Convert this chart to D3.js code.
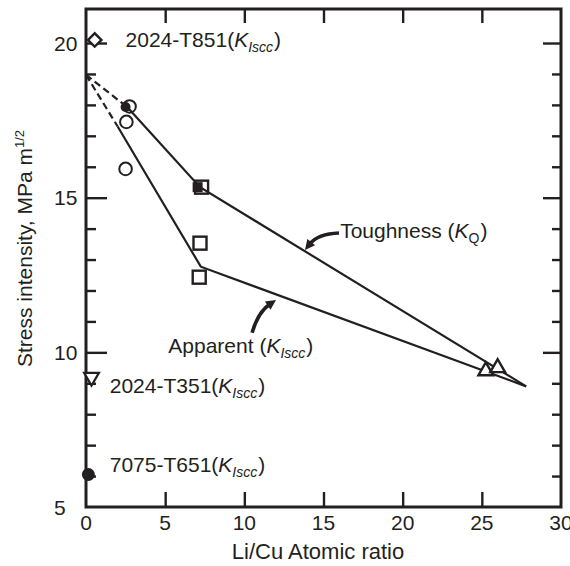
<!DOCTYPE html>
<html><head><meta charset="utf-8">
<script src="https://cdn.jsdelivr.net/npm/d3@7"></script>
<style>
body{margin:0;background:#fff;}
svg{display:block;}
text{font-family:"Liberation Sans",Arial,Helvetica,sans-serif;fill:#231f20;}
</style>
</head><body>
<svg id="c" width="570" height="566"></svg>
<script>
// ---- data ----
const xTickValues = [0, 5, 10, 15, 20, 25, 30];
const yTickLabels = [5, 10, 15, 20];
const yTickAll = [6, 7, 8, 9, 10, 11, 12, 13, 14, 15, 16, 17, 18, 19, 20];
const xInnerTicks = [5, 10, 15, 20, 25];

const toughnessLine = [{x: 2.6, y: 17.93}, {x: 7.2, y: 15.34}, {x: 27.8, y: 8.9}];
const apparentLine  = [{x: 2.0, y: 17.3}, {x: 7.25, y: 12.77}, {x: 27.8, y: 8.9}];
const extrapolation = [
  [{x: 0, y: 18.97}, {x: 2.6, y: 17.93}],
  [{x: 0, y: 18.97}, {x: 2.0, y: 17.3}]
];
const openCircles   = [{x: 2.75, y: 17.95}, {x: 2.55, y: 17.45}, {x: 2.5, y: 15.93}];
const filledCircles = [{x: 2.5, y: 17.93, r: 5}, {x: 0.15, y: 6.05, r: 6.5}];
const openSquares   = [{x: 7.3, y: 15.34}, {x: 7.2, y: 13.53}, {x: 7.15, y: 12.43}];
const filledSquares = [{x: 7.05, y: 15.34}];
const upTriangles   = [{x: 25.25, y: 9.4}, {x: 26.0, y: 9.5}];
const diamonds      = [{x: 0.55, y: 20.1}];
const downTriangles = [{x: 0.35, y: 9.2}];

const alloyLabels = [
  {name: "2024-T851(", sub: "Iscc", x: 2.5, y: 19.87},
  {name: "2024-T351(", sub: "Iscc", x: 1.5, y: 8.7},
  {name: "7075-T651(", sub: "Iscc", x: 1.5, y: 6.12}
];
const curveLabels = [
  {name: "Toughness (", sub: "Q", subItalic: false, x: 16.05, y: 13.69},
  {name: "Apparent (", sub: "Iscc", subItalic: true, x: 5.2, y: 9.97}
];
const arrows = [
  {tail: {x: 15.98, y: 13.86}, ctrl: {x: 14.65, y: 13.83}, tip: {x: 13.83, y: 13.31}},
  {tail: {x: 10.49, y: 10.63}, ctrl: {x: 10.87, y: 11.3},  tip: {x: 12.0,  y: 11.69}}
];

// ---- chart ----
const svg = d3.select("#c");
const x = d3.scaleLinear().domain([0, 30]).range([86, 561]);
const y = d3.scaleLinear().domain([5, 21.1]).range([507, 9]);
const ink = "#231f20";

// frame
svg.append("rect").attr("x", x(0)).attr("y", y(21.1))
  .attr("width", x(30) - x(0)).attr("height", y(5) - y(21.1))
  .attr("fill", "none").attr("stroke", ink).attr("stroke-width", 3);

// tick marks (inner ticks on all four sides)
const leftAxis = d3.axisRight(y).tickValues(yTickAll).tickFormat("")
  .tickSizeOuter(0).tickSizeInner(10);
svg.append("g").attr("class", "leftTicks")
  .attr("transform", `translate(${x(0)},0)`).call(leftAxis)
  .call(s => s.select(".domain").remove())
  .call(s => s.selectAll(".tick line")
    .attr("x2", d => d % 5 === 0 ? 21 : 10)
    .attr("stroke", ink).attr("stroke-width", 2.4));
const rightAxis = d3.axisLeft(y).tickValues(yTickAll).tickFormat("")
  .tickSizeOuter(0).tickSizeInner(9);
svg.append("g").attr("class", "rightTicks")
  .attr("transform", `translate(${x(30)},0)`).call(rightAxis)
  .call(s => s.select(".domain").remove())
  .call(s => s.selectAll(".tick line")
    .attr("x2", d => d % 5 === 0 ? -18 : -9)
    .attr("stroke", ink).attr("stroke-width", 2.4));
svg.append("g").attr("transform", `translate(0,${y(21.1)})`)
  .call(d3.axisBottom(x).tickValues(xInnerTicks).tickFormat("").tickSizeOuter(0).tickSizeInner(14))
  .call(s => s.select(".domain").remove())
  .call(s => s.selectAll(".tick line").attr("stroke", ink).attr("stroke-width", 2.4));
svg.append("g").attr("transform", `translate(0,${y(5)})`)
  .call(d3.axisTop(x).tickValues(xInnerTicks).tickFormat("").tickSizeOuter(0).tickSizeInner(15))
  .call(s => s.select(".domain").remove())
  .call(s => s.selectAll(".tick line").attr("stroke", ink).attr("stroke-width", 2.4));

// tick labels
svg.selectAll(".xl").data(xTickValues).join("text").attr("class", "xl")
  .attr("x", d => x(d)).attr("y", 530).attr("text-anchor", "middle")
  .attr("font-size", 21).text(d => d);
svg.selectAll(".yl").data(yTickLabels).join("text").attr("class", "yl")
  .attr("x", 54).attr("y", d => y(d) + 7.5)
  .attr("font-size", 21).text(d => d);

// axis titles
svg.append("text").attr("x", 318).attr("y", 559).attr("text-anchor", "middle")
  .attr("font-size", 22).text("Li/Cu Atomic ratio");
const yt = svg.append("text").attr("transform", "translate(32,367) rotate(-90)")
  .attr("font-size", 21);
yt.append("tspan").text("Stress intensity, MPa m");
yt.append("tspan").attr("font-size", 13).attr("dy", -8).text("1/2");

// lines
const line = d3.line().x(d => x(d.x)).y(d => y(d.y));
svg.append("path").datum(toughnessLine).attr("d", line)
  .attr("fill", "none").attr("stroke", ink).attr("stroke-width", 2.2);
svg.append("path").datum(apparentLine).attr("d", line)
  .attr("fill", "none").attr("stroke", ink).attr("stroke-width", 2.2);
svg.selectAll(".ex").data(extrapolation).join("path").attr("class", "ex").attr("d", line)
  .attr("fill", "none").attr("stroke", ink).attr("stroke-width", 2.2)
  .attr("stroke-dasharray", "7,4");

// markers
svg.selectAll(".fs").data(filledSquares).join("rect").attr("class", "fs")
  .attr("x", d => x(d.x) - 5).attr("y", d => y(d.y) - 5)
  .attr("width", 10).attr("height", 10).attr("fill", ink);
svg.selectAll(".os").data(openSquares).join("rect").attr("class", "os")
  .attr("x", d => x(d.x) - 6.5).attr("y", d => y(d.y) - 6.5)
  .attr("width", 13).attr("height", 13).attr("fill", "none")
  .attr("stroke", ink).attr("stroke-width", 2.4);
svg.selectAll(".oc").data(openCircles).join("circle").attr("class", "oc")
  .attr("cx", d => x(d.x)).attr("cy", d => y(d.y)).attr("r", 6.3)
  .attr("fill", "none").attr("stroke", ink).attr("stroke-width", 2);
svg.selectAll(".fc").data(filledCircles).join("circle").attr("class", "fc")
  .attr("cx", d => x(d.x)).attr("cy", d => y(d.y)).attr("r", d => d.r).attr("fill", ink);
const tri = d3.symbol().type(d3.symbolTriangle).size(95);
svg.selectAll(".ut").data(upTriangles).join("path").attr("class", "ut")
  .attr("d", tri).attr("transform", d => `translate(${x(d.x)},${y(d.y)})`)
  .attr("fill", "#fff").attr("stroke", ink).attr("stroke-width", 2.4);
svg.selectAll(".dt").data(downTriangles).join("path").attr("class", "dt")
  .attr("d", tri).attr("transform", d => `translate(${x(d.x)},${y(d.y)}) rotate(180)`)
  .attr("fill", "#fff").attr("stroke", ink).attr("stroke-width", 2.2);
svg.selectAll(".dm").data(diamonds).join("path").attr("class", "dm")
  .attr("d", d3.symbol().type(d3.symbolSquare).size(90))
  .attr("transform", d => `translate(${x(d.x)},${y(d.y)}) rotate(45)`)
  .attr("fill", "#fff").attr("stroke", ink).attr("stroke-width", 2.4);

// labels
function richLabel(d, subItalic) {
  const t = svg.append("text").attr("x", x(d.x)).attr("y", y(d.y)).attr("font-size", 21);
  t.append("tspan").text(d.name);
  t.append("tspan").attr("font-style", "italic").text("K");
  t.append("tspan").attr("font-size", 14).attr("dy", 5)
    .attr("font-style", subItalic ? "italic" : "normal").text(d.sub);
  t.append("tspan").attr("dy", -5).attr("dx", 1).text(")");
}
alloyLabels.forEach(d => richLabel(d, true));
curveLabels.forEach(d => richLabel(d, d.subItalic));

// arrows
arrows.forEach(a => {
  const p0 = [x(a.tail.x), y(a.tail.y)], c = [x(a.ctrl.x), y(a.ctrl.y)], p1 = [x(a.tip.x), y(a.tip.y)];
  const dx = p1[0] - c[0], dy = p1[1] - c[1], L = Math.hypot(dx, dy);
  const ux = dx / L, uy = dy / L, hl = 10, hw = 5;
  const base = [p1[0] - ux * hl, p1[1] - uy * hl];
  const path = d3.path();
  path.moveTo(p0[0], p0[1]);
  path.quadraticCurveTo(c[0], c[1], base[0] + ux * 2, base[1] + uy * 2);
  svg.append("path").attr("d", path.toString()).attr("fill", "none")
    .attr("stroke", ink).attr("stroke-width", 3.6).attr("stroke-linecap", "butt");
  svg.append("path").attr("d", d3.line()([
    p1, [base[0] - uy * hw, base[1] + ux * hw], [base[0] + uy * hw, base[1] - ux * hw]
  ]) + "Z").attr("fill", ink);
});
</script>
</body></html>
